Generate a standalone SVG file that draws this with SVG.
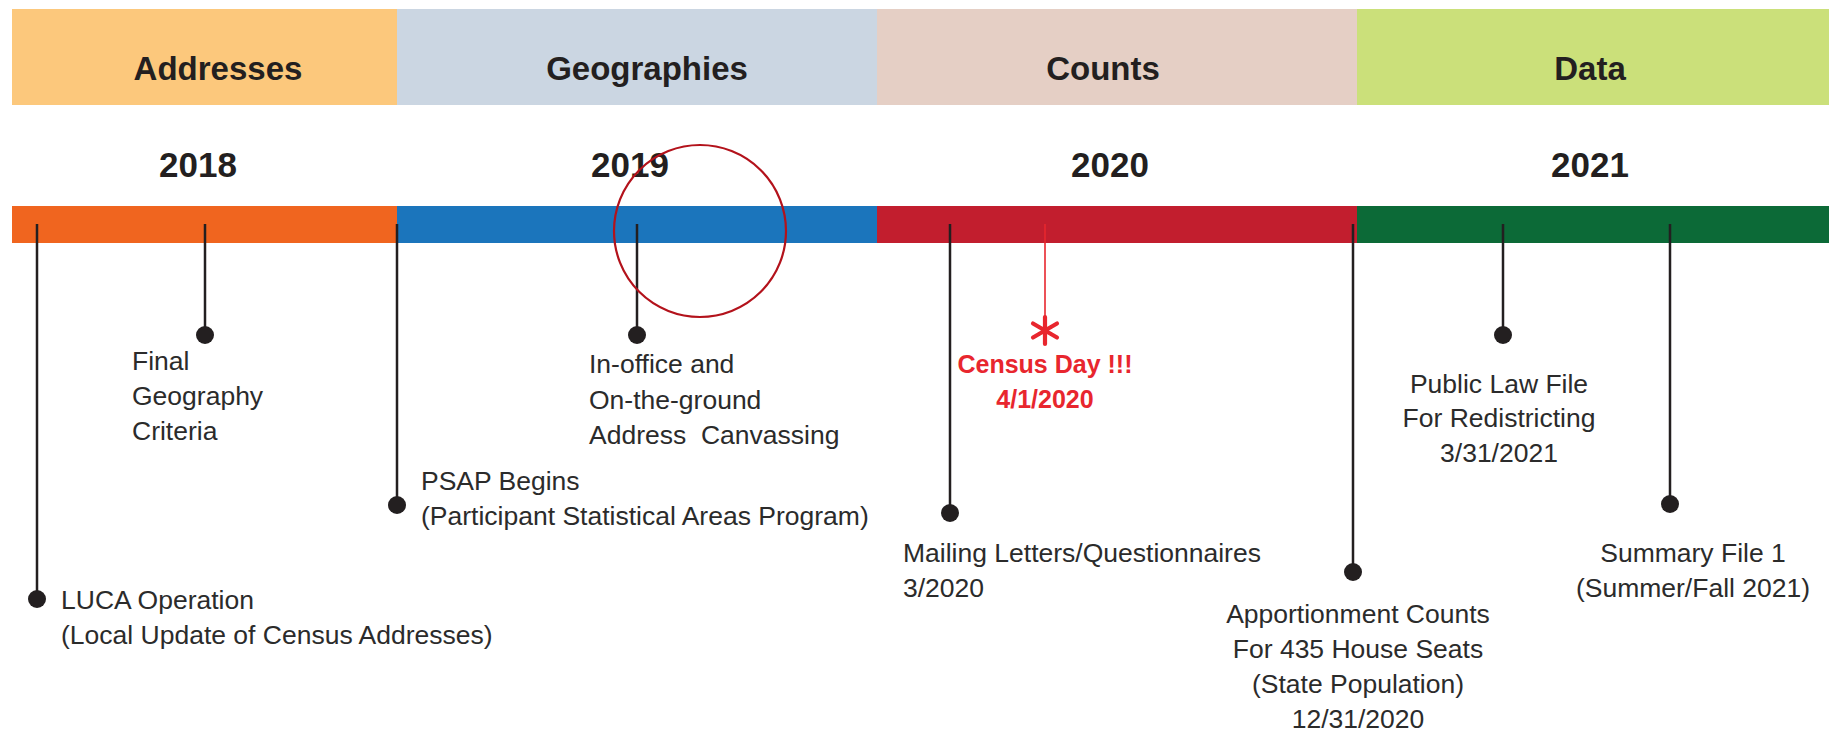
<svg xmlns="http://www.w3.org/2000/svg" width="1829" height="734" viewBox="0 0 1829 734">
<style>
.hd{font-family:"Liberation Sans",Arial,sans-serif;font-weight:bold;font-size:33px;fill:#231f20;text-anchor:middle}
.yr{font-family:"Liberation Sans",Arial,sans-serif;font-weight:bold;font-size:35px;fill:#231f20;text-anchor:middle}
.t{font-family:"Liberation Sans",Arial,sans-serif;font-size:26.5px;fill:#2b2b2b}
.c{text-anchor:middle}
.red{font-family:"Liberation Sans",Arial,sans-serif;font-weight:bold;font-size:25px;fill:#e8262e;text-anchor:middle}
.stem{stroke:#231f20;stroke-width:2.5;fill:none}
.dot{fill:#231f20}
</style>
<rect width="1829" height="734" fill="#ffffff"/>
<g id="header">
<rect x="12" y="9" width="385" height="96" fill="#fcc87c"/>
<rect x="397" y="9" width="480" height="96" fill="#cbd6e2"/>
<rect x="877" y="9" width="480" height="96" fill="#e5cfc5"/>
<rect x="1357" y="9" width="472" height="96" fill="#cbe07a"/>
<text class="hd" x="218" y="80">Addresses</text>
<text class="hd" x="647" y="80">Geographies</text>
<text class="hd" x="1103" y="80">Counts</text>
<text class="hd" x="1590" y="80">Data</text>
</g>
<g id="years">
<text class="yr" x="198" y="177">2018</text>
<text class="yr" x="630" y="177">2019</text>
<text class="yr" x="1110" y="177">2020</text>
<text class="yr" x="1590" y="177">2021</text>
</g>
<g id="bar">
<rect x="12" y="206" width="385" height="37" fill="#f0651f"/>
<rect x="397" y="206" width="480" height="37" fill="#1b75bc"/>
<rect x="877" y="206" width="480" height="37" fill="#c21e2e"/>
<rect x="1357" y="206" width="472" height="37" fill="#0c6a37"/>
</g>
<g id="connectors">
<line class="stem" x1="37" y1="224" x2="37" y2="598"/>
<line class="stem" x1="205" y1="224" x2="205" y2="334"/>
<line class="stem" x1="397" y1="224" x2="397" y2="504"/>
<line class="stem" x1="637" y1="224" x2="637" y2="334"/>
<line class="stem" x1="950" y1="224" x2="950" y2="512"/>
<line x1="1045" y1="224" x2="1045" y2="318" stroke="#e8262e" stroke-width="1.6"/>
<line class="stem" x1="1353" y1="224" x2="1353" y2="572"/>
<line class="stem" x1="1503" y1="224" x2="1503" y2="335"/>
<line class="stem" x1="1670" y1="224" x2="1670" y2="504"/>
</g>
<g id="luca">
<circle class="dot" cx="37" cy="599" r="9"/>
<text class="t" x="61" y="609">LUCA Operation</text>
<text class="t" x="61" y="644">(Local Update of Census Addresses)</text>
</g>
<g id="final-geo">
<circle class="dot" cx="205" cy="335" r="9"/>
<text class="t" x="132" y="370">Final</text>
<text class="t" x="132" y="405">Geography</text>
<text class="t" x="132" y="440">Criteria</text>
</g>
<g id="psap">
<circle class="dot" cx="397" cy="505" r="9"/>
<text class="t" x="421" y="490">PSAP Begins</text>
<text class="t" x="421" y="525">(Participant Statistical Areas Program)</text>
</g>
<g id="canvassing">
<circle class="dot" cx="637" cy="335" r="9"/>
<text class="t" x="589" y="373">In-office and</text>
<text class="t" x="589" y="409">On-the-ground</text>
<text class="t" x="589" y="444" xml:space="preserve">Address  Canvassing</text>
</g>
<g id="highlight">
<circle cx="700" cy="231" r="86" fill="none" stroke="#b3121b" stroke-width="2.2"/>
</g>
<g id="mailing">
<circle class="dot" cx="950" cy="513" r="9"/>
<text class="t" x="903" y="562">Mailing Letters/Questionnaires</text>
<text class="t" x="903" y="597">3/2020</text>
</g>
<g id="census-day">
<path d="M1045 317 V344 M1033 323.5 L1057 337.5 M1057 323.5 L1033 337.5" stroke="#e8262e" stroke-width="4.2" stroke-linecap="round" fill="none"/>
<text class="red" x="1045" y="373">Census Day !!!</text>
<text class="red" x="1045" y="408">4/1/2020</text>
</g>
<g id="apportionment">
<circle class="dot" cx="1353" cy="572" r="9"/>
<text class="t c" x="1358" y="623">Apportionment Counts</text>
<text class="t c" x="1358" y="658">For 435 House Seats</text>
<text class="t c" x="1358" y="693">(State Population)</text>
<text class="t c" x="1358" y="728">12/31/2020</text>
</g>
<g id="public-law">
<circle class="dot" cx="1503" cy="335" r="9"/>
<text class="t c" x="1499" y="393">Public Law File</text>
<text class="t c" x="1499" y="427">For Redistricting</text>
<text class="t c" x="1499" y="462">3/31/2021</text>
</g>
<g id="summary">
<circle class="dot" cx="1670" cy="504" r="9"/>
<text class="t c" x="1693" y="562">Summary File 1</text>
<text class="t c" x="1693" y="597">(Summer/Fall 2021)</text>
</g>
</svg>
